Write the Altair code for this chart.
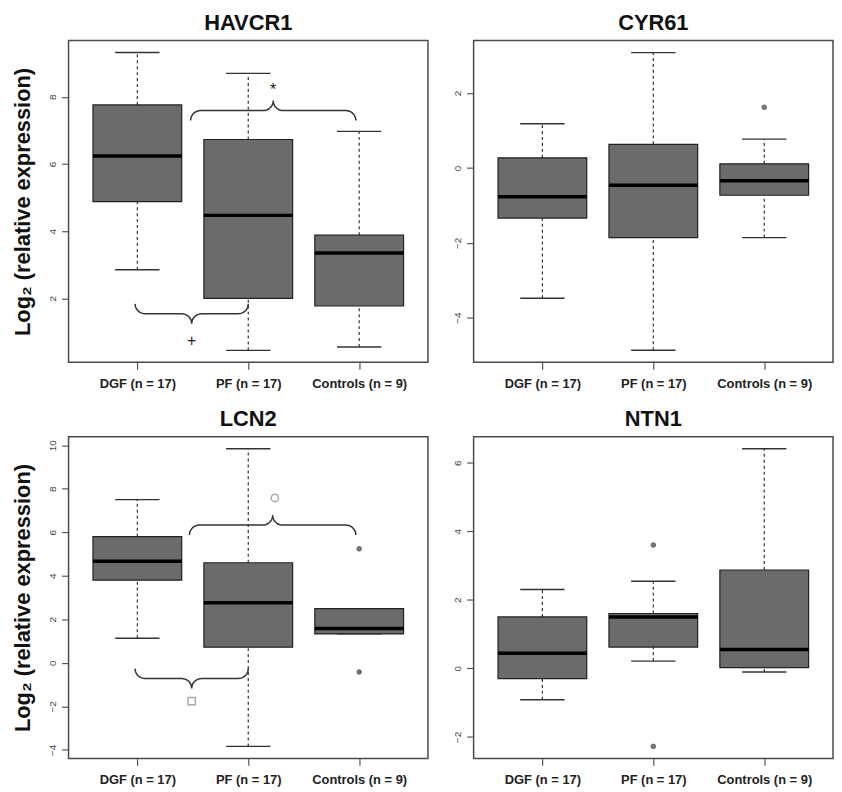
import altair as alt
import pandas as pd
import numpy as np

# ---------------- data ----------------
groups = ["DGF (n = 17)", "PF (n = 17)", "Controls (n = 9)"]
positions = [1, 2, 3]

genes = ["HAVCR1", "CYR61", "LCN2", "NTN1"]

havcr1_low = [2.85, 0.45, 0.55]
havcr1_q1 = [4.88, 2.00, 1.77]
havcr1_med = [6.24, 4.47, 3.35]
havcr1_q3 = [7.76, 6.73, 3.88]
havcr1_high = [9.32, 8.70, 6.97]
havcr1_out_pos = []
havcr1_out_val = []

cyr61_low = [-3.48, -4.87, -1.86]
cyr61_q1 = [-1.34, -1.86, -0.73]
cyr61_med = [-0.77, -0.46, -0.34]
cyr61_q3 = [0.27, 0.63, 0.11]
cyr61_high = [1.18, 3.08, 0.77]
cyr61_out_pos = [3]
cyr61_out_val = [1.62]

lcn2_low = [1.13, -3.84, 1.33]
lcn2_q1 = [3.80, 0.72, 1.33]
lcn2_med = [4.67, 2.76, 1.58]
lcn2_q3 = [5.80, 4.60, 2.49]
lcn2_high = [7.50, 9.84, 2.49]
lcn2_out_pos = [3, 3]
lcn2_out_val = [5.24, -0.42]

ntn1_low = [-0.92, 0.21, -0.11]
ntn1_q1 = [-0.30, 0.62, 0.02]
ntn1_med = [0.44, 1.50, 0.55]
ntn1_q3 = [1.50, 1.60, 2.87]
ntn1_high = [2.30, 2.54, 6.41]
ntn1_out_pos = [2, 2]
ntn1_out_val = [3.60, -2.28]

# y axis domains (R-style 4% extension) and tick values
havcr1_domain = [0.095, 9.675]
cyr61_domain = [-5.19, 3.40]
lcn2_domain = [-4.39, 10.39]
ntn1_domain = [-2.63, 6.76]
havcr1_ticks = [2, 4, 6, 8]
cyr61_ticks = [-4, -2, 0, 2]
lcn2_ticks = [-4, -2, 0, 2, 4, 6, 8, 10]
ntn1_ticks = [-2, 0, 2, 4, 6]

# significance braces: start, end, level, direction of tip (+1 up, -1 down)
havcr1_brace_x0 = [1.48, 0.98]
havcr1_brace_x1 = [2.97, 2.00]
havcr1_brace_y = [7.59, 1.54]
havcr1_brace_dir = [1, -1]
havcr1_sym_text = ["*", "+"]
havcr1_sym_x = [2.225, 1.49]
havcr1_sym_y = [8.20, 0.72]

lcn2_brace_x0 = [1.47, 0.98]
lcn2_brace_x1 = [2.97, 2.00]
lcn2_brace_y = [6.33, -0.72]
lcn2_brace_dir = [1, -1]
lcn2_sym_shape = ["circle", "square"]
lcn2_sym_x = [2.24, 1.49]
lcn2_sym_y = [7.58, -1.76]

# ---------------- layout / style ----------------
W, H = 362, 324
XDOM = [0.38, 3.62]
FONT = "Liberation Sans"
BOX_FILL = "#6b6b6b"

label_expr = " : ".join(
    [f"datum.value == {p} ? '{g}'" for p, g in zip(positions[:-1], groups[:-1])]
) + f" : '{groups[-1]}'"


def brace_frame(x0s, x1s, ys, dirs, ydom, r_px=10.0):
    sx = W / (XDOM[1] - XDOM[0])
    sy = H / (ydom[1] - ydom[0])
    rx = r_px / sx
    ry = r_px / sy
    rows = []
    for b, (x0, x1, y, d) in enumerate(zip(x0s, x1s, ys, dirs)):
        xc = (x0 + x1) / 2
        pts = []
        t = np.linspace(np.pi, np.pi / 2, 10)
        pts += [(x0 + rx + rx * np.cos(a), -ry + ry * np.sin(a)) for a in t]
        t = np.linspace(-np.pi / 2, 0, 10)
        pts += [(xc - rx + rx * np.cos(a), ry + ry * np.sin(a)) for a in t]
        t = np.linspace(np.pi, 1.5 * np.pi, 10)
        pts += [(xc + rx + rx * np.cos(a), ry + ry * np.sin(a)) for a in t]
        t = np.linspace(np.pi / 2, 0, 10)
        pts += [(x1 - rx + rx * np.cos(a), -ry + ry * np.sin(a)) for a in t]
        for i, (u, v) in enumerate(pts):
            rows.append({"b": b, "i": i, "x": u, "y": y + d * v})
    return pd.DataFrame(rows)


def panel(name, low, q1, med, q3, high, out_pos, out_val, ydom, yticks, left,
          braces=None, texts=None, shapes=None):
    df = pd.DataFrame({"pos": positions, "low": low, "q1": q1, "med": med,
                       "q3": q3, "high": high})
    df["left"] = df["pos"] - 0.4
    df["right"] = df["pos"] + 0.4
    df["cl"] = df["pos"] - 0.2
    df["cr"] = df["pos"] + 0.2

    xsc = alt.Scale(domain=XDOM, nice=False, zero=False)
    ysc = alt.Scale(domain=ydom, nice=False, zero=False)
    xax = alt.Axis(values=positions, labelExpr=label_expr, title="",
                   tickSize=7, tickColor="#555", tickWidth=1.2,
                   labelFont=FONT, labelFontSize=13, labelFontWeight="bold",
                   labelColor="#222", labelPadding=8, domain=False, grid=False,
                   labelFlush=False, labelOverlap=False)
    yargs = dict(values=yticks, tickSize=7, tickColor="#555", tickWidth=1.2,
                 labelAngle=270, labelAlign="center", labelBaseline="bottom",
                 labelFont=FONT, labelFontSize=10, labelColor="#444",
                 labelPadding=4, domain=False, grid=False)
    if left:
        yargs.update(title="Log\u2082 (relative expression)", titleFont=FONT,
                     titleFontSize=22, titleFontWeight="bold",
                     titleColor="#111", titlePadding=13)
    else:
        yargs.update(title="")
    yax = alt.Axis(**yargs)

    def X(f):
        return alt.X(f, type="quantitative", scale=xsc, axis=xax)

    def Y(f):
        return alt.Y(f, type="quantitative", scale=ysc, axis=yax)

    base = alt.Chart(df)
    whisk_hi = base.mark_rule(color="#333", strokeWidth=1.2, strokeDash=[3, 3]).encode(
        x=X("pos"), y=Y("q3"), y2="high")
    whisk_lo = base.mark_rule(color="#333", strokeWidth=1.2, strokeDash=[3, 3]).encode(
        x=X("pos"), y=Y("low"), y2="q1")
    cap_hi = base.mark_rule(color="#333", strokeWidth=1.4).encode(
        x=X("cl"), x2="cr", y=Y("high"))
    cap_lo = base.mark_rule(color="#333", strokeWidth=1.4).encode(
        x=X("cl"), x2="cr", y=Y("low"))
    box = base.mark_rect(fill=BOX_FILL, stroke="#222", strokeWidth=1.2).encode(
        x=X("left"), x2="right", y=Y("q1"), y2="q3")
    median = base.mark_rule(color="#000", strokeWidth=3.5).encode(
        x=X("left"), x2="right", y=Y("med"))
    layers = [whisk_hi, whisk_lo, cap_hi, cap_lo, box, median]

    if out_pos:
        odf = pd.DataFrame({"pos": out_pos, "val": out_val})
        layers.append(alt.Chart(odf).mark_point(
            shape="circle", filled=True, size=22, color="#7a7a7a",
            stroke="#555", strokeWidth=0.8, opacity=1).encode(
            x=X("pos"), y=Y("val")))

    if braces is not None:
        bdf = brace_frame(*braces, ydom)
        layers.append(alt.Chart(bdf).mark_line(color="#333", strokeWidth=1.5).encode(
            x=X("x"), y=Y("y"), detail="b:N", order="i:Q"))

    if texts is not None:
        tdf = pd.DataFrame({"t": texts[0], "x": texts[1], "y": texts[2]})
        layers.append(alt.Chart(tdf).mark_text(
            font=FONT, fontSize=16, color="#222", baseline="middle").encode(
            x=X("x"), y=Y("y"), text="t:N"))

    if shapes is not None:
        sdf = pd.DataFrame({"s": shapes[0], "x": shapes[1], "y": shapes[2]})
        layers.append(alt.Chart(sdf).mark_point(
            filled=False, size=55, color="#aaa", strokeWidth=1.5, opacity=1).encode(
            x=X("x"), y=Y("y"),
            shape=alt.Shape("s:N", scale=alt.Scale(domain=["circle", "square"],
                                                   range=["circle", "square"]),
                            legend=None)))

    # panel title as a text mark just above the plot frame
    title_df = pd.DataFrame({"t": [name]})
    layers.append(alt.Chart(title_df).mark_text(
        font=FONT, fontSize=22, fontWeight="bold", color="#111",
        align="center", baseline="middle").encode(
        text="t:N", x=alt.value(W / 2), y=alt.value(-18)))

    return alt.layer(*layers).properties(width=W, height=H)


p1 = panel(genes[0], havcr1_low, havcr1_q1, havcr1_med, havcr1_q3, havcr1_high,
           havcr1_out_pos, havcr1_out_val, havcr1_domain, havcr1_ticks, True,
           braces=(havcr1_brace_x0, havcr1_brace_x1, havcr1_brace_y, havcr1_brace_dir),
           texts=(havcr1_sym_text, havcr1_sym_x, havcr1_sym_y))
p2 = panel(genes[1], cyr61_low, cyr61_q1, cyr61_med, cyr61_q3, cyr61_high,
           cyr61_out_pos, cyr61_out_val, cyr61_domain, cyr61_ticks, False)
p3 = panel(genes[2], lcn2_low, lcn2_q1, lcn2_med, lcn2_q3, lcn2_high,
           lcn2_out_pos, lcn2_out_val, lcn2_domain, lcn2_ticks, True,
           braces=(lcn2_brace_x0, lcn2_brace_x1, lcn2_brace_y, lcn2_brace_dir),
           shapes=(lcn2_sym_shape, lcn2_sym_x, lcn2_sym_y))
p4 = panel(genes[3], ntn1_low, ntn1_q1, ntn1_med, ntn1_q3, ntn1_high,
           ntn1_out_pos, ntn1_out_val, ntn1_domain, ntn1_ticks, False)

row1 = alt.hconcat(p1, p2, spacing=23)
row2 = alt.hconcat(p3, p4, spacing=23)
chart = alt.vconcat(row1, row2, spacing=16).configure(
    padding={"left": 3, "top": 0, "right": 0, "bottom": 0},
    background="white").configure_view(stroke="#4a4a4a", strokeWidth=1.5)

chart.save("out.html", embed_options={"renderer": "svg", "actions": False})
